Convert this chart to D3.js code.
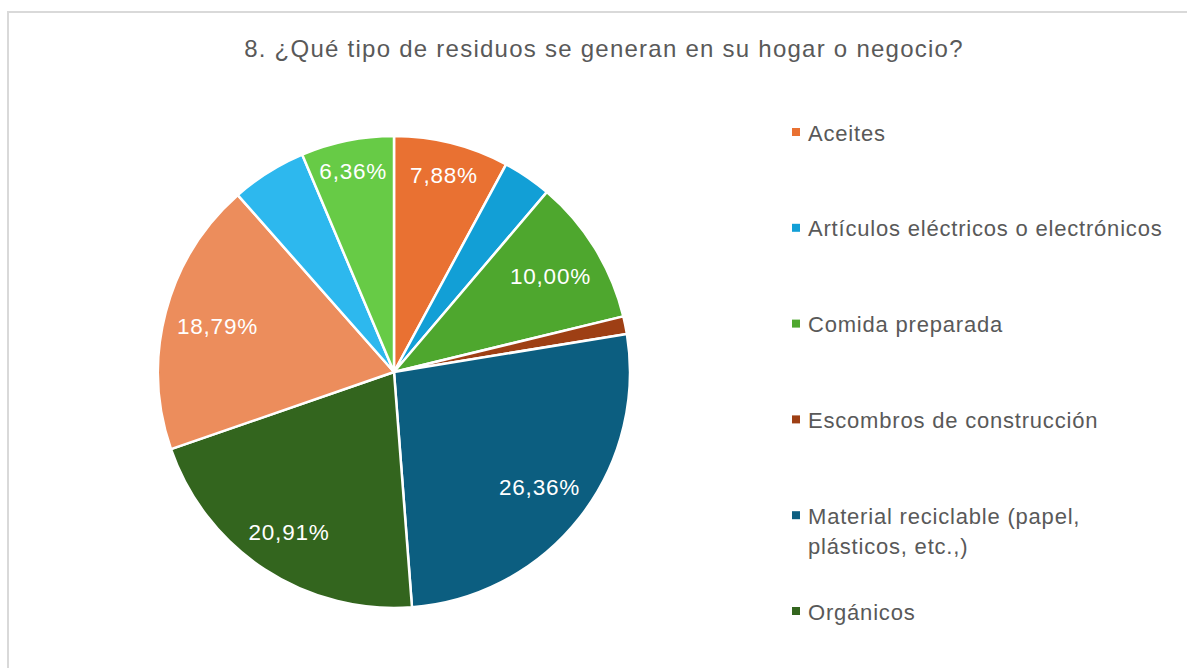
<!DOCTYPE html>
<html>
<head>
<meta charset="utf-8">
<script src="https://cdn.jsdelivr.net/npm/d3@7"></script>
<style>
  html, body { margin: 0; padding: 0; background: #ffffff; }
  svg { display: block; }
</style>
</head>
<body>
<svg id="chart" width="1187" height="668"></svg>
<script>
// ---- data ----
const title = "8. ¿Qué tipo de residuos se generan en su hogar o negocio?";
const categories = [
  "Aceites",
  "Artículos eléctricos o electrónicos",
  "Comida preparada",
  "Escombros de construcción",
  "Material reciclable (papel, plásticos, etc.,)",
  "Orgánicos",
  "Categoría 7",
  "Categoría 8",
  "Categoría 9"
];
const percents = [7.88, 3.33, 10.00, 1.21, 26.36, 20.91, 18.79, 5.15, 6.36];
const colors = ["#E97132", "#129FD6", "#4EA72E", "#9E3F14", "#0C5E80", "#33651E", "#EC8D5C", "#2DB8EE", "#67CB46"];
const legendCount = 6;       // entries visible in the legend
const labelMin = 6;          // only slices >= this % carry a data label

// ---- layout ----
const W = 1187, H = 668;
const cx = 394, cy = 372, R = 236;
const svg = d3.select("#chart");

// frame
svg.append("rect")
  .attr("x", 8).attr("y", 12).attr("width", 1300).attr("height", 800)
  .attr("fill", "#fff").attr("stroke", "#D9D9D9").attr("stroke-width", 2);

// title
svg.append("text")
  .attr("x", 604).attr("y", 57)
  .attr("text-anchor", "middle")
  .attr("font-family", "'Liberation Sans', Arial, sans-serif")
  .attr("font-size", 24)
  .attr("letter-spacing", 1.25)
  .attr("fill", "#595959")
  .text(title);

// pie
const data = categories.map((c, i) => ({ name: c, value: percents[i], color: colors[i] }));
const pie = d3.pie().value(d => d.value).sort(null);
const arcs = pie(data);
const arc = d3.arc().innerRadius(0).outerRadius(R);

const g = svg.append("g").attr("transform", `translate(${cx},${cy})`);
g.selectAll("path.slice")
  .data(arcs)
  .join("path")
  .attr("class", "slice")
  .attr("d", arc)
  .attr("fill", d => d.data.color)
  .attr("stroke", "#ffffff")
  .attr("stroke-width", 2.5)
  .attr("stroke-linejoin", "round");

// data labels, "inside end" placement
const fmt = v => v.toFixed(2).replace(".", ",") + "%";
const labels = g.selectAll("text.lbl")
  .data(arcs.filter(d => d.data.value >= labelMin))
  .join("text")
  .attr("class", "lbl")
  .attr("text-anchor", "middle")
  .attr("dominant-baseline", "central")
  .attr("font-family", "'Liberation Sans', Arial, sans-serif")
  .attr("font-size", 22.5)
  .attr("letter-spacing", 0.8)
  .attr("fill", "#ffffff")
  .text(d => fmt(d.data.value));

labels.each(function(d) {
  const w = this.getComputedTextLength();
  const hw = w / 2 + 3, hh = 13;
  const a = (d.startAngle + d.endAngle) / 2;
  const sx = Math.sin(a), sy = -Math.cos(a);
  const lim = R - 8;
  let lo = 0, hi = R;
  for (let k = 0; k < 40; k++) {
    const m = (lo + hi) / 2;
    const x = m * sx, y = m * sy;
    const fx = Math.abs(x) + hw, fy = Math.abs(y) + hh;
    if (Math.hypot(fx, fy) <= lim) lo = m; else hi = m;
  }
  d3.select(this).attr("x", lo * sx).attr("y", lo * sy + 1);
});

// legend
const legX = 792, legY0 = 140.5, legStep = 95.8, lineH = 30.5, maxW = 365;
const leg = svg.append("g");
data.slice(0, legendCount).forEach((d, i) => {
  const y = legY0 + i * legStep;
  leg.append("rect")
    .attr("x", legX).attr("y", y - 12.5)
    .attr("width", 8).attr("height", 8)
    .attr("fill", d.color);
  const t = leg.append("text")
    .attr("x", legX + 16).attr("y", y)
    .attr("font-family", "'Liberation Sans', Arial, sans-serif")
    .attr("font-size", 22)
    .attr("letter-spacing", 0.8)
    .attr("fill", "#595959");
  // word wrap
  const words = d.name.split(" ");
  let line = [], ln = 0;
  let ts = t.append("tspan").attr("x", legX + 16).attr("y", y);
  words.forEach(wd => {
    line.push(wd);
    ts.text(line.join(" "));
    if (ts.node().getComputedTextLength() > maxW && line.length > 1) {
      line.pop();
      ts.text(line.join(" "));
      line = [wd];
      ln++;
      ts = t.append("tspan").attr("x", legX + 16).attr("y", y + ln * lineH).text(wd);
    }
  });
});
</script>
</body>
</html>
